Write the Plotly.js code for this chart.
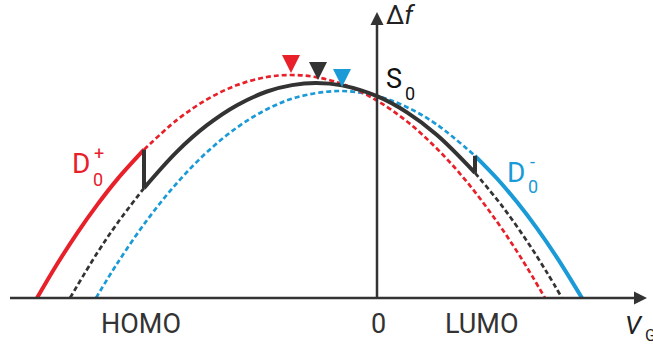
<!DOCTYPE html>
<html>
<head>
<meta charset="utf-8">
<script src="https://cdn.plot.ly/plotly-3.0.1.min.js"></script>
<style>html,body{margin:0;padding:0;background:#fff;}#chart{width:653px;height:345px;}</style>
</head>
<body>
<div id="chart"></div>
<script>
// Values (x: gate voltage, y: frequency shift, arbitrary units; origin at axis crossing)
// D0+ parabola (red)
const redSolidX = [-340, -320, -300, -280, -260, -233];
const redSolidY = [0, 33.7, 64.7, 92.9, 118.4, 148.3];
const redDashX = [-233, -200, -170, -140, -110, -86, -60, -30, 0, 30, 60, 90, 120, 145, 168];
const redDashY = [148.3, 178.1, 198.6, 212.9, 221.0, 223, 220.7, 212.2, 197.4, 176.5, 149.3, 116.0, 76.3, 38.6, 0];
// S0 parabola (black)
const blackDashLX = [-307, -280, -260, -233];
const blackDashLY = [0, 44.7, 74.3, 109.9];
const blackSolidX = [-233, -200, -170, -140, -110, -85, -61, -35, 0, 30, 60, 98];
const blackSolidY = [109.9, 146.4, 172.8, 192.8, 206.5, 212.9, 215, 212.6, 201.8, 185.6, 163.0, 125.2];
const blackDashRX = [98, 125, 150, 170, 185];
const blackDashRY = [125.2, 92.1, 56.8, 25.4, 0];
// D0- parabola (blue)
const blueDashX = [-281, -260, -230, -200, -170, -140, -110, -80, -38, 0, 30, 60, 98];
const blueDashY = [0, 34.2, 77.8, 115.0, 145.9, 170.5, 188.8, 200.8, 207, 201.9, 190.8, 173.3, 142.2];
const blueSolidX = [98, 120, 140, 160, 180, 205];
const blueSolidY = [142.2, 119.5, 95.9, 69.6, 40.4, 0];
// vertical transitions
const jumpLX = [-233, -233];
const jumpLY = [148.3, 109.9];
const jumpRX = [98, 98];
const jumpRY = [125.2, 142.2];
// parabola maxima markers
const peakX = [-86, -59, -35];
const peakY = [225, 218, 211];
const peakColors = ['#e8202a', '#333333', '#1a9ad6'];
// axis labels
const tickLabels = ['HOMO', '0', 'LUMO'];
const tickX = [-236, 1, 105];

const RED = '#e8202a', BLACK = '#333333', BLUE = '#1a9ad6';
const DASH = '5px,3px';
function ln(x, y, color, width, dash, shape) {
  return {x: x, y: y, type: 'scatter', mode: 'lines', hoverinfo: 'skip', showlegend: false,
    line: {color: color, width: width, dash: dash || 'solid', shape: shape || 'spline', smoothing: 1}};
}
const traces = [
  ln(blueDashX, blueDashY, BLUE, 2.7, DASH),
  ln(blackDashLX, blackDashLY, BLACK, 2.7, DASH),
  ln(blackDashRX, blackDashRY, BLACK, 2.7, DASH),
  ln(redDashX, redDashY, RED, 2.7, DASH),
  ln(redSolidX, redSolidY, RED, 4),
  ln(blueSolidX, blueSolidY, BLUE, 4),
  ln(jumpLX, jumpLY, BLACK, 4, 'solid', 'linear'),
  ln(jumpRX, jumpRY, BLACK, 4, 'solid', 'linear'),
  ln(blackSolidX, blackSolidY, BLACK, 4),
  {x: peakX, y: peakY, type: 'scatter', mode: 'markers', hoverinfo: 'skip', showlegend: false,
   marker: {symbol: 'arrow-down', size: 18, color: peakColors, line: {width: 0}}},
  // axis arrowheads
  {x: [270, 0], y: [0, 286], type: 'scatter', mode: 'markers', hoverinfo: 'skip', showlegend: false,
   marker: {symbol: ['arrow-right', 'arrow-up'], size: 13, color: BLACK, line: {width: 0}}}
];

const F = 'Roboto, "Liberation Sans", Arial, sans-serif';
function ann(x, y, text, size, color) {
  return {x: x, y: y, xref: 'x', yref: 'y', text: text, showarrow: false, xanchor: 'center', yanchor: 'middle',
    font: {family: F, size: size, color: color || '#222'}};
}
const annotations = [
  ann(23, 283, 'Δ<i>f</i>', 26),
  ann(17, 219, 'S', 27, '#111'),
  ann(33, 205, '0', 18, '#111'),
  ann(-296, 135, 'D', 28, RED),
  ann(-278, 145, '+', 18, RED),
  ann(-279, 119, '0', 18, RED),
  ann(139, 126, 'D', 28, BLUE),
  ann(155, 137, '-', 18, BLUE),
  ann(156, 112, '0', 18, BLUE),
  ann(257, -27, '<i>V</i>', 26),
  ann(273, -37, 'G', 16)
];
tickLabels.forEach((t, i) => annotations.push(ann(tickX[i], -26, t, 27, '#333')));

const layout = {
  width: 653, height: 345,
  margin: {l: 0, r: 0, t: 0, b: 0},
  paper_bgcolor: '#fff', plot_bgcolor: '#fff',
  xaxis: {range: [-377, 276], visible: false, fixedrange: true},
  yaxis: {range: [-47, 298], visible: false, fixedrange: true},
  shapes: [
    {type: 'line', xref: 'x', yref: 'y', x0: -367, x1: 262, y0: 0, y1: 0, line: {color: BLACK, width: 2.5}},
    {type: 'line', xref: 'x', yref: 'y', x0: 0, x1: 0, y0: 0, y1: 278, line: {color: BLACK, width: 2.5}}
  ],
  annotations: annotations,
  showlegend: false
};
Plotly.newPlot('chart', traces, layout, {staticPlot: true, displayModeBar: false});
</script>
</body>
</html>
